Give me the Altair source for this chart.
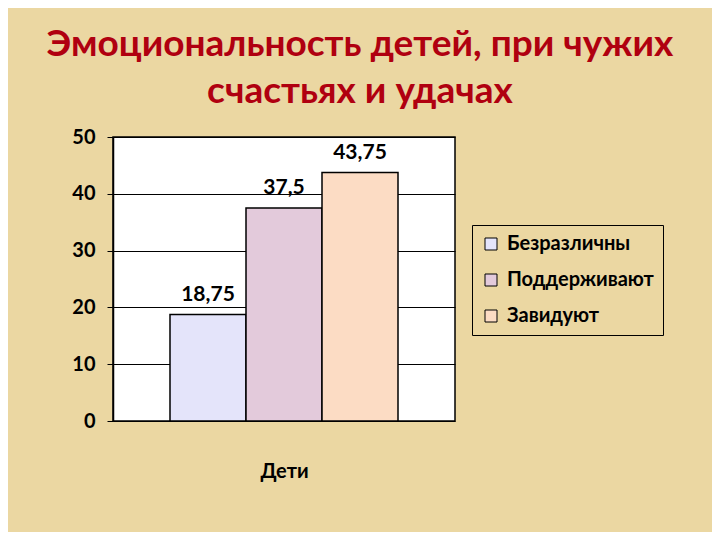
import altair as alt
import pandas as pd

series = ["Безразличны", "Поддерживают", "Завидуют"]
values = [18.75, 37.5, 43.75]
labels = ["18,75", "37,5", "43,75"]
colors = ["#E4E4FA", "#E3CADB", "#FCDCC4"]
y_ticks = [0, 10, 20, 30, 40, 50]

df = pd.DataFrame({"series": series, "value": values, "label": labels})

FONT = "Lato"

x_enc = alt.X(
    "series:N",
    sort=series,
    scale=alt.Scale(paddingInner=0, paddingOuter=0.75),
    axis=alt.Axis(labels=False, ticks=False, domain=False, grid=False,
                  title="Дети", titleFontSize=20, titleFontWeight="bold",
                  titleColor="black", titleFont=FONT, titlePadding=40),
)
y_enc = alt.Y(
    "value:Q",
    scale=alt.Scale(domain=[0, 50], nice=False),
    axis=alt.Axis(values=y_ticks, grid=True, gridColor="black", gridWidth=1,
                  domain=True, domainColor="black", domainWidth=1.5,
                  ticks=True, tickColor="black", tickSize=6,
                  labelFontSize=20, labelFontWeight="bold", labelColor="black",
                  labelFont=FONT, labelPadding=12, title=None),
)

bars = alt.Chart(df).mark_bar(stroke="black", strokeWidth=1.5, opacity=1).encode(
    x=x_enc,
    y=y_enc,
    color=alt.Color(
        "series:N",
        sort=series,
        scale=alt.Scale(domain=series, range=colors),
        legend=alt.Legend(
            title=None, orient="none", legendX=359, legendY=88,
            symbolType="square", symbolSize=144, symbolStrokeColor="black",
            symbolStrokeWidth=1, symbolOpacity=1,
            labelFontSize=20, labelFontWeight="bold", labelColor="black",
            labelFont=FONT, labelLimit=300,
            rowPadding=16, padding=9, strokeColor="black",
            fillColor="transparent", labelOffset=6,
        ),
    ),
)

text = alt.Chart(df).mark_text(
    baseline="alphabetic", dy=-14, fontSize=21, fontWeight="bold", font=FONT, color="black"
).encode(
    x=alt.X("series:N", sort=series),
    y="value:Q",
    text="label:N",
)

chart = (bars + text).properties(
    width=342,
    height=284,
    title=alt.TitleParams(
        text=["Эмоциональность детей, при чужих", "счастьях и удачах"],
        fontSize=37, fontWeight="bold", color="#B00010", font=FONT,
        anchor="middle", dx=76, offset=16, lineHeight=47,
    ),
    autosize=alt.AutoSizeParams(type="none"),
    padding={"left": 105, "top": 129, "right": 257, "bottom": 111},
    background="#EBD7A2",
).configure_view(
    fill="white", stroke="black", strokeWidth=1.5,
)

chart.save("out.html", embed_options={"renderer": "svg", "actions": False})
